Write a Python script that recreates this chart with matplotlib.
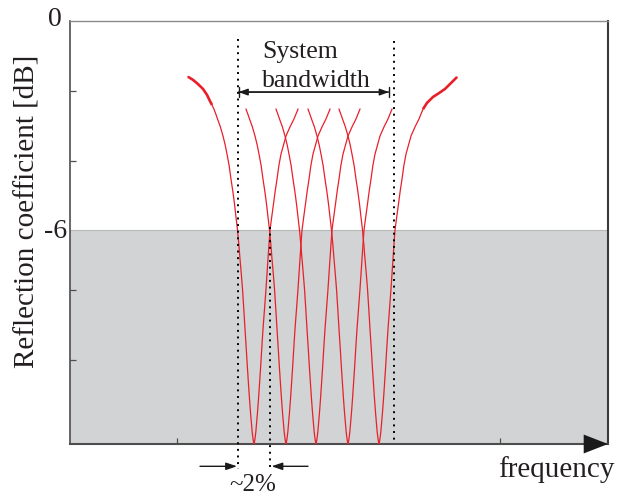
import matplotlib
matplotlib.use("Agg")
import matplotlib.pyplot as plt

# -------------
# Data
# frequency in arbitrary units, reflection coefficient in dB
# -------------
centers = [184, 216, 246, 278, 309]          # resonance minima

# shape of one resonance dip: level and offset of each branch from the minimum
profile_db = [-2.53, -2.67, -2.81, -3.04, -3.30, -3.56, -3.82, -4.16,
              -4.54, -4.88, -5.25, -5.63, -6.00, -6.40, -6.83, -7.26,
              -7.69, -8.27, -8.84, -9.42, -9.99, -10.42, -10.85, -11.23,
              -11.57, -11.80, -11.94, -12.06, -12.14]
left_off = [-40, -38.2, -36.5, -33.6, -31, -28.8, -27, -24.8,
            -23, -21.2, -19.5, -18, -16.5, -15.2, -14, -12.7,
            -11.5, -10.2, -9, -7.7, -6.5, -5.5, -4.5, -3.5,
            -2.5, -1.8, -1.2, -0.6, 0]
right_off = [44, 42, 40, 36, 32, 29.5, 27, 24.8,
             23, 21.2, 19.5, 17.7, 16, 15, 14, 13,
             12, 10.5, 9, 7.7, 6.5, 5.5, 4.5, 3.5,
             2.5, 1.8, 1.2, 0.6, 0]

# outer flanks of the first and the last resonance
left_ext_db = [-1.60, -1.69, -1.81, -1.95, -2.12, -2.30, -2.41]
left_ext_off = [-66, -61, -56, -51, -47, -44, -42]
right_ext_db = [-2.35, -2.18, -2.07, -1.95, -1.78, -1.61]
right_ext_off = [48, 54, 60, 66, 72, 78]

threshold_db = -6
y_bottom = -12.14
y_ticks = [-2.01, -4.02, -7.72, -9.73]
x_ticks = [107, 430]
band_edges = [168, 323.5]
step_edges = [168, 200]

RED = "#e8202a"
GREY = "#d1d3d4"
SPINE = "#4d4d4d"

plt.rcParams["font.family"] = ["Liberation Serif", "DejaVu Serif"]

fig = plt.figure(figsize=(6.18, 5.02), dpi=100)
ax = fig.add_axes([70 / 618, 57 / 502, 538 / 618, 423 / 502])
ax.set_xlim(0, 538)
ax.set_ylim(y_bottom, 0)

# grey region below -6 dB
ax.axhspan(y_bottom, threshold_db, color=GREY, lw=0, zorder=0)
ax.axhline(threshold_db, color="#b5b7b9", lw=0.8, zorder=0.5)

# -------------
# Resonance curves
# -------------
for i, c in enumerate(centers):
    xs = [c + o for o in left_off] + [c + o for o in right_off[::-1]]
    ys = profile_db + profile_db[::-1]
    if i == 0:
        ext_x = [c + o for o in left_ext_off]
        xs = ext_x + xs
        ys = left_ext_db + ys
        ax.plot(ext_x, left_ext_db, color=RED, lw=1.9,
                solid_capstyle="butt", solid_joinstyle="round", zorder=3)
    if i == len(centers) - 1:
        ext_x = [c + o for o in right_ext_off]
        xs = xs + ext_x
        ys = ys + right_ext_db
        ax.plot([c + right_off[0]] + ext_x, [profile_db[0]] + right_ext_db,
                color=RED, lw=1.9, solid_capstyle="butt",
                solid_joinstyle="round", zorder=3)
    ax.plot(xs, ys, color=RED, lw=0.9, solid_joinstyle="round", zorder=3)

# -------------
# Dotted guides and arrows
# -------------
dots = dict(color="black", lw=1.4, linestyle=(0, (1, 2.4)),
            dash_capstyle="butt", clip_on=False, zorder=4)
ax.plot([band_edges[0]] * 2, [-0.52, -12.86], **dots)
ax.plot([band_edges[1]] * 2, [-0.57, y_bottom], **dots)
ax.plot([step_edges[1]] * 2, [-5.9, -12.86], **dots)

ax.annotate("", xy=(band_edges[0] + 0.5, -2.04), xytext=(319, -2.04),
            arrowprops=dict(arrowstyle="<|-|>,head_length=0.55,head_width=0.2",
                            mutation_scale=10, lw=1, color="#1a1a1a",
                            shrinkA=0, shrinkB=0))
ax.annotate("", xy=(band_edges[0] + 0.5, -2.04), xytext=(319, -2.04),
            arrowprops=dict(arrowstyle="|-|,widthA=0.35,widthB=0.35",
                            mutation_scale=10, lw=1, color="#1a1a1a",
                            shrinkA=0, shrinkB=0))
ax.text(192, -1.03, "System", fontsize=18.5, ha="left", va="baseline",
        color="#231f20")
ax.text(192, -1.87, "bandwidth", fontsize=18.5, ha="left", va="baseline",
        color="#231f20")

small_arrow = dict(arrowstyle="-|>,head_length=0.65,head_width=0.22",
                   mutation_scale=10, lw=1, color="#1a1a1a",
                   shrinkA=0, shrinkB=0)
ax.annotate("", xy=(step_edges[0] - 1, -12.78), xytext=(130, -12.78),
            arrowprops=small_arrow, annotation_clip=False)
ax.annotate("", xy=(step_edges[1] + 1.5, -12.78), xytext=(238, -12.78),
            arrowprops=small_arrow, annotation_clip=False)
ax.text(183, -13.3, "~2%", fontsize=18, ha="center", va="center",
        color="#231f20")

# frequency axis arrow
ax.annotate("", xy=(538, y_bottom), xytext=(512, y_bottom),
            arrowprops=dict(arrowstyle="-|>,head_length=1.75,head_width=0.68",
                            mutation_scale=10, lw=0, color="#1a1a1a",
                            shrinkA=0, shrinkB=0),
            annotation_clip=False, zorder=5)
ax.text(428, -13.06, "frequency", fontsize=21, ha="left", va="baseline",
        color="#231f20")

# -------------
# Axes styling
# -------------
ax.set_xticks(x_ticks)
ax.set_yticks(y_ticks)
ax.set_xticklabels([])
ax.set_yticklabels([])
ax.tick_params(direction="in", length=4.5, width=0.9, color=SPINE)

ax.spines["left"].set_color(SPINE)
ax.spines["left"].set_linewidth(1.2)
ax.spines["bottom"].set_color(SPINE)
ax.spines["bottom"].set_linewidth(1.5)
ax.spines["right"].set_color("#3a3a3a")
ax.spines["right"].set_linewidth(1.5)
ax.spines["top"].set_color("#8a8a8a")
ax.spines["top"].set_linewidth(1.0)

yt = ax.get_yaxis_transform()
ax.text(-0.015, 0.08, "0", transform=yt, fontsize=20, ha="right",
        va="center", color="#231f20")
ax.text(-0.006, threshold_db, "-6", transform=yt, fontsize=20, ha="right",
        va="center", color="#231f20")

fig.text(28 / 618, 1 - 211 / 502, "Reflection coefficient [dB]", fontsize=21,
         rotation=90, ha="center", va="center", color="#231f20")

fig.savefig("out.png", dpi=100)
